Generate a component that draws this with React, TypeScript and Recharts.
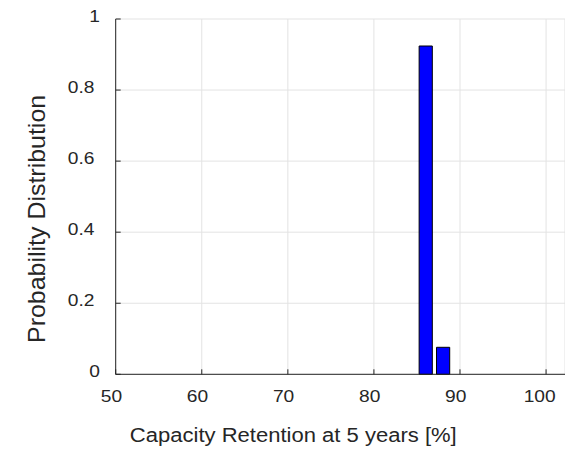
import React from "react";
import { BarChart, Bar, XAxis, YAxis, CartesianGrid, Label } from "recharts";

// histogram bin centres (%) and the probability in each bin
const binCenters = [
  49.87, 51.88, 53.89, 55.9, 57.9, 59.91, 61.92, 63.93, 65.94, 67.94, 69.95,
  71.96, 73.97, 75.98, 77.99, 79.99, 82.0, 84.01, 86.02, 88.04, 90.04, 92.05,
  94.06, 96.07, 98.08, 100.09, 102.09,
];
const probability = [
  0, 0, 0, 0, 0, 0, 0, 0, 0, 0, 0, 0, 0, 0, 0, 0, 0, 0, 0.924, 0.076, 0, 0, 0,
  0, 0, 0, 0,
];
const xTicks = [50, 60, 70, 80, 90, 100];
const yTicks = [0, 0.2, 0.4, 0.6, 0.8, 1];
const xTitle = "Capacity Retention at 5 years [%]";
const yTitle = "Probability Distribution";

const FONT = "'Liberation Sans', Arial, Helvetica, sans-serif";
const TEXT = "#262626";
const AXIS = "#262626";
const GRID = "#e3e3e3";
const SX = 1.13; // glyphs are drawn slightly wide

const XTick = (props: any) => {
  const { x, payload } = props;
  const label = String(payload.value);
  const w = label.length * 0.556 * 17 * SX;
  return (
    <g transform={`translate(${x - 0.2 * w},402) scale(${SX},1)`}>
      <text textAnchor="middle" fill={TEXT} fontSize={17} fontFamily={FONT}>
        {label}
      </text>
    </g>
  );
};

const YTick = (props: any) => {
  const { y, payload } = props;
  const label = String(payload.value);
  const right = label.length === 1 ? 100 : 94.5;
  return (
    <g transform={`translate(${right},${y + 2.5}) scale(${SX},1)`}>
      <text textAnchor="end" fill={TEXT} fontSize={17} fontFamily={FONT}>
        {label}
      </text>
    </g>
  );
};

export default function App() {
  const rows = binCenters.map((c, i) => ({ center: c, prob: probability[i] }));

  return (
    <div style={{ position: "absolute", left: 0, top: 0, background: "#fff" }}>
      <BarChart
        width={565}
        height={452}
        data={rows}
        margin={{ top: 19, right: 0, left: 0, bottom: 0 }}
      >
        <CartesianGrid stroke={GRID} strokeWidth={1} />
        <XAxis
          dataKey="center"
          type="number"
          domain={[50, 102.2]}
          allowDataOverflow
          ticks={xTicks}
          interval={0}
          height={77.7}
          tickSize={-5}
          tickMargin={0}
          axisLine={{ stroke: AXIS }}
          tickLine={{ stroke: AXIS }}
          tick={<XTick />}
        >
          <Label
            content={() => (
              <g transform={`translate(293.3,442) scale(${SX},1)`}>
                <text textAnchor="middle" fill={TEXT} fontSize={19.5} fontFamily={FONT}>
                  {xTitle}
                </text>
              </g>
            )}
          />
        </XAxis>
        <XAxis
          xAxisId="top"
          orientation="top"
          type="number"
          domain={[50, 102.2]}
          allowDataOverflow
          ticks={xTicks}
          interval={0}
          height={0}
          tickSize={-5}
          axisLine={{ stroke: AXIS }}
          tickLine={{ stroke: AXIS }}
          tick={false}
        />
        <YAxis
          type="number"
          domain={[0, 1]}
          ticks={yTicks}
          interval={0}
          width={115.7}
          tickSize={-5}
          tickMargin={0}
          axisLine={{ stroke: AXIS }}
          tickLine={{ stroke: AXIS }}
          tick={<YTick />}
        >
          <Label
            content={() => (
              <g transform="translate(45,343) rotate(-90) scale(1.04,1)">
                <text textAnchor="start" fill={TEXT} fontSize={24} fontFamily={FONT}>
                  {yTitle}
                </text>
              </g>
            )}
          />
        </YAxis>
        <Bar
          dataKey="prob"
          fill="#0000ff"
          stroke="#000000"
          strokeWidth={1}
          barSize={13.2}
          isAnimationActive={false}
        />
      </BarChart>
    </div>
  );
}
